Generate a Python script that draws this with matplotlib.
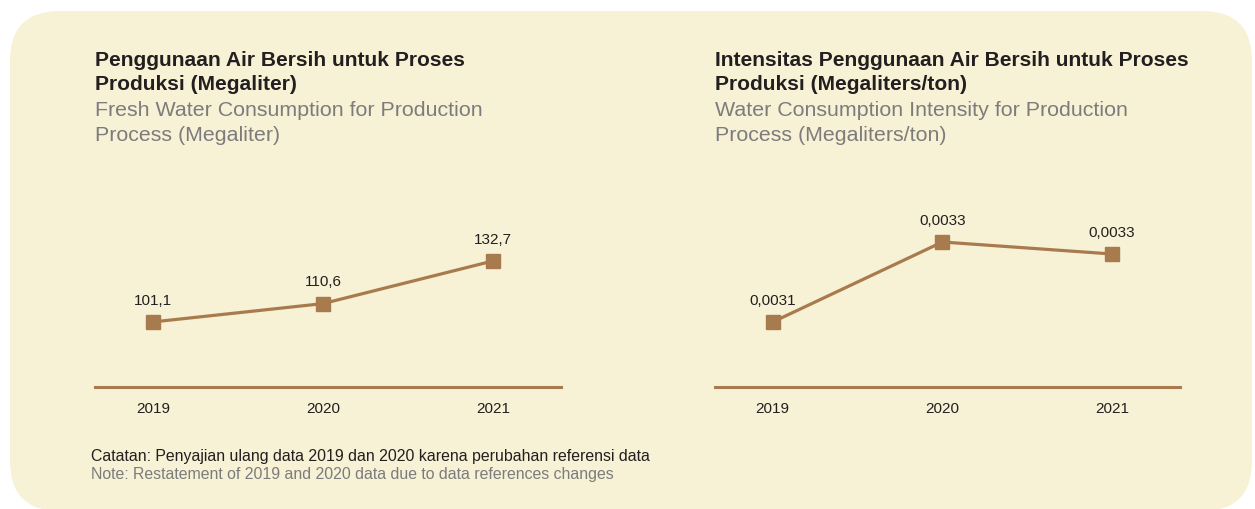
import matplotlib.pyplot as plt
from matplotlib.patches import FancyBboxPatch

plt.rcParams['font.family'] = ['Liberation Sans', 'DejaVu Sans']

years = ['2019', '2020', '2021']
water_use = [101.1, 110.6, 132.7]          # Megaliter
water_intensity = [0.0031, 0.0033, 0.00327]  # Megaliters/ton

title_id = [['Penggunaan Air Bersih untuk Proses', 'Produksi (Megaliter)'],
            ['Intensitas Penggunaan Air Bersih untuk Proses', 'Produksi (Megaliters/ton)']]
title_en = [['Fresh Water Consumption for Production', 'Process (Megaliter)'],
            ['Water Consumption Intensity for Production', 'Process (Megaliters/ton)']]
note_id = 'Catatan: Penyajian ulang data 2019 dan 2020 karena perubahan referensi data'
note_en = 'Note: Restatement of 2019 and 2020 data due to data references changes'

W, H = 1255, 510
BG = '#F7F1D5'
BROWN = '#A87B4E'
DARK = '#231F20'
GREY = '#7C7C7C'

fig = plt.figure(figsize=(W / 100, H / 100), dpi=100)

# rounded panel behind everything, drawn in pixel units
bg = fig.add_axes([0, 0, 1, 1], zorder=-1)
bg.set_xlim(0, W)
bg.set_ylim(H, 0)
bg.axis('off')
bg.add_patch(FancyBboxPatch((10, 12), 1242, 500,
                            boxstyle='round,pad=0,rounding_size=50',
                            fc=BG, ec='none'))


def px(x, y):
    return x / W, 1 - y / H


def panel(left, right, values, ylim, fmt):
    ax = fig.add_axes([left / W, (H - 388) / H, (right - left) / W, 188 / H])
    ax.patch.set_alpha(0)
    x = range(len(values))
    ax.plot(x, values, color=BROWN, lw=2.3, marker='s', ms=9.5,
            mfc=BROWN, mec=BROWN, clip_on=False)
    for i, v in enumerate(values):
        ax.annotate(fmt(v), (i, v), xytext=(0, 16), textcoords='offset points',
                    ha='center', va='center', fontsize=11, color=DARK)
    ax.set_xlim(-0.34, 2.4)
    ax.set_ylim(*ylim)
    ax.set_xticks(list(x))
    ax.set_xticklabels(years)
    ax.set_yticks([])
    for s in ['top', 'left', 'right']:
        ax.spines[s].set_visible(False)
    ax.spines['bottom'].set_color(BROWN)
    ax.spines['bottom'].set_linewidth(2.2)
    ax.tick_params(axis='x', length=0, pad=10, labelsize=11, labelcolor=DARK)
    return ax


def comma(v, d):
    return f'{v:.{d}f}'.replace('.', ',')


panel(95, 561, water_use, (67.4, 164.8), lambda v: comma(v, 1))
panel(715, 1180, water_intensity, (0.0029375, 0.0034075), lambda v: comma(v, 4))

for x0, t_id, t_en in [(95, title_id[0], title_en[0]), (715, title_id[1], title_en[1])]:
    for k, line in enumerate(t_id):
        fig.text(*px(x0, 60 + 25 * k), line, fontsize=15.1, fontweight='bold',
                 color=DARK, va='center', ha='left')
    for k, line in enumerate(t_en):
        fig.text(*px(x0, 111 + 25 * k), line, fontsize=15.4, color=GREY,
                 va='center', ha='left')

fig.text(*px(91, 456), note_id, fontsize=11.4, color=DARK, va='center', ha='left')
fig.text(*px(91, 475), note_en, fontsize=11.4, color=GREY, va='center', ha='left')

fig.savefig('out.png', dpi=100, facecolor='white')
